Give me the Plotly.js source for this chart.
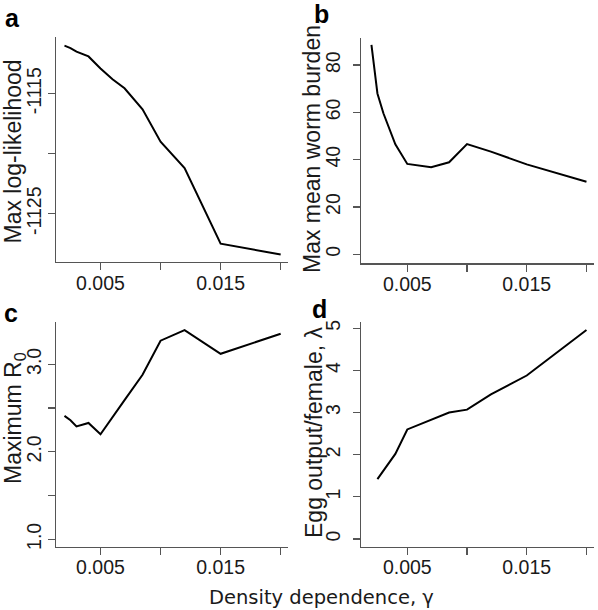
<!DOCTYPE html>
<html>
<head>
<meta charset="utf-8">
<script src="https://cdn.plot.ly/plotly-3.0.1.min.js"></script>
<style>html,body{margin:0;padding:0;background:#fff;}#chart{width:598px;height:610px;}</style>
</head>
<body>
<div id="chart"></div>
<script>
// Data
const gammaA = [0.002, 0.0025, 0.003, 0.004, 0.005, 0.006, 0.007, 0.0085, 0.01, 0.012, 0.015, 0.02];
const maxLogLik = [-1111.0, -1111.2, -1111.5, -1111.9, -1112.9, -1113.8, -1114.55, -1116.3, -1119.0, -1121.2, -1127.5, -1128.4];

const gammaB = [0.002, 0.0025, 0.003, 0.004, 0.005, 0.006, 0.007, 0.0085, 0.01, 0.012, 0.015, 0.02];
const maxWormBurden = [88.5, 68.0, 59.6, 46.5, 38.2, 37.4, 36.8, 38.9, 46.6, 43.4, 38.0, 30.7];

const gammaC = [0.002, 0.0025, 0.003, 0.004, 0.005, 0.006, 0.007, 0.0085, 0.01, 0.012, 0.015, 0.02];
const maxR0 = [2.41, 2.36, 2.29, 2.33, 2.20, 2.39, 2.59, 2.88, 3.27, 3.39, 3.12, 3.35];

const gammaD = [0.0025, 0.004, 0.005, 0.006, 0.007, 0.0085, 0.01, 0.012, 0.015, 0.02];
const eggOutput = [1.42, 2.02, 2.60, 2.71, 2.82, 3.00, 3.07, 3.43, 3.88, 4.96];

const xTickVals = [0.005, 0.01, 0.015, 0.02];
const xTickText = ['0.005', '', '0.015', ''];
const yTickValsA = [-1125, -1120, -1115];
const yTickTextA = ['-1125', '', '-1115'];
const yTickValsB = [0, 20, 40, 60, 80];
const yTickTextB = ['0', '20', '40', '60', '80'];
const yTickValsC = [1.0, 1.5, 2.0, 2.5, 3.0];
const yTickTextC = ['1.0', '', '2.0', '', '3.0'];
const yTickValsD = [0, 1, 2, 3, 4, 5];
const yTickTextD = ['0', '1', '2', '3', '4', '5'];

const W = 598, H = 610;
const px = v => v / W;
const py = v => 1 - v / H;

const tickFont = {family: 'Liberation Sans, Arial, sans-serif', size: 19.5, color: '#1a1a1a'};
const axisCol = '#555555';

function xax(l, r, range) {
  return {domain: [px(l), px(r)], range: range, showline: true, linecolor: axisCol, linewidth: 1.2,
    ticks: 'outside', ticklen: 7, tickwidth: 1.2, tickcolor: axisCol, showgrid: false, zeroline: false,
    tickmode: 'array', tickvals: xTickVals, ticktext: xTickText, tickfont: tickFont, automargin: false,
    ticklabelstandoff: -4};
}
function yax(top, bot, range, tv, tt, standoff) {
  return {domain: [py(bot), py(top)], range: range, showline: true, linecolor: axisCol, linewidth: 1.2,
    ticks: 'outside', ticklen: 7, tickwidth: 1.2, tickcolor: axisCol, showgrid: false, zeroline: false,
    tickmode: 'array', tickvals: tv, ticktext: tt, tickangle: -90, tickfont: tickFont, automargin: false,
    ticklabelstandoff: standoff};
}

const lineStyle = {color: '#000', width: 2};
const traces = [
  {x: gammaA, y: maxLogLik, xaxis: 'x', yaxis: 'y', mode: 'lines', line: lineStyle, hoverinfo: 'skip'},
  {x: gammaB, y: maxWormBurden, xaxis: 'x2', yaxis: 'y2', mode: 'lines', line: lineStyle, hoverinfo: 'skip'},
  {x: gammaC, y: maxR0, xaxis: 'x3', yaxis: 'y3', mode: 'lines', line: lineStyle, hoverinfo: 'skip'},
  {x: gammaD, y: eggOutput, xaxis: 'x4', yaxis: 'y4', mode: 'lines', line: lineStyle, hoverinfo: 'skip'}
];

const titleFont = {family: 'Liberation Sans, Arial, sans-serif', size: 23, color: '#1a1a1a'};
const letterFont = {family: 'Liberation Sans, Arial, sans-serif', size: 25, color: '#000', weight: 'bold'};

function ann(text, x, y, font, angle, xa, ya) {
  return {text: text, x: px(x), y: py(y), xref: 'paper', yref: 'paper', showarrow: false,
    font: font, textangle: angle || 0, xanchor: xa || 'center', yanchor: ya || 'middle'};
}

const layout = {
  width: W, height: H,
  margin: {l: 0, r: 0, t: 0, b: 0},
  paper_bgcolor: '#fff', plot_bgcolor: '#fff',
  showlegend: false,
  xaxis: Object.assign(xax(55.7, 288, [0.00127, 0.02061]), {anchor: 'y'}),
  yaxis: Object.assign(yax(37, 262, [-1129.03, -1110.28], yTickValsA, yTickTextA, -1), {anchor: 'x'}),
  xaxis2: Object.assign(xax(361.3, 594, [0.00115, 0.02063]), {anchor: 'y2'}),
  yaxis2: Object.assign(yax(38.3, 263.3, [-3.8, 91.3], yTickValsB, yTickTextB, 5), {anchor: 'x2'}),
  xaxis3: Object.assign(xax(55.7, 288, [0.00127, 0.02061]), {anchor: 'y3'}),
  yaxis3: Object.assign(yax(321.7, 546.7, [0.915, 3.487], yTickValsC, yTickTextC, -1), {anchor: 'x3'}),
  xaxis4: Object.assign(xax(361.3, 594, [0.00115, 0.02063]), {anchor: 'y4'}),
  yaxis4: Object.assign(yax(322, 546.7, [-0.183, 5.15], yTickValsD, yTickTextD, 5), {anchor: 'x4'}),
  annotations: [
    ann('Max log-likelihood', 12, 151.5, titleFont, -90),
    ann('Max mean worm burden', 312, 149, titleFont, -90),
    ann('Maximum R<sub>0</sub>', 14, 418, titleFont, -90),
    ann('Egg output/female, λ', 314, 433, titleFont, -90),
    ann('Density dependence, γ', 321, 597, {family: 'DejaVu Sans, sans-serif', size: 19.5, color: '#1a1a1a'}, 0),
    ann('a', 3, 18, letterFont, 0, 'left'),
    ann('b', 312, 14, letterFont, 0, 'left'),
    ann('c', 2, 313, letterFont, 0, 'left'),
    ann('d', 310, 309, letterFont, 0, 'left')
  ]
};

Plotly.newPlot('chart', traces, layout, {staticPlot: true, displayModeBar: false});
</script>
</body>
</html>
